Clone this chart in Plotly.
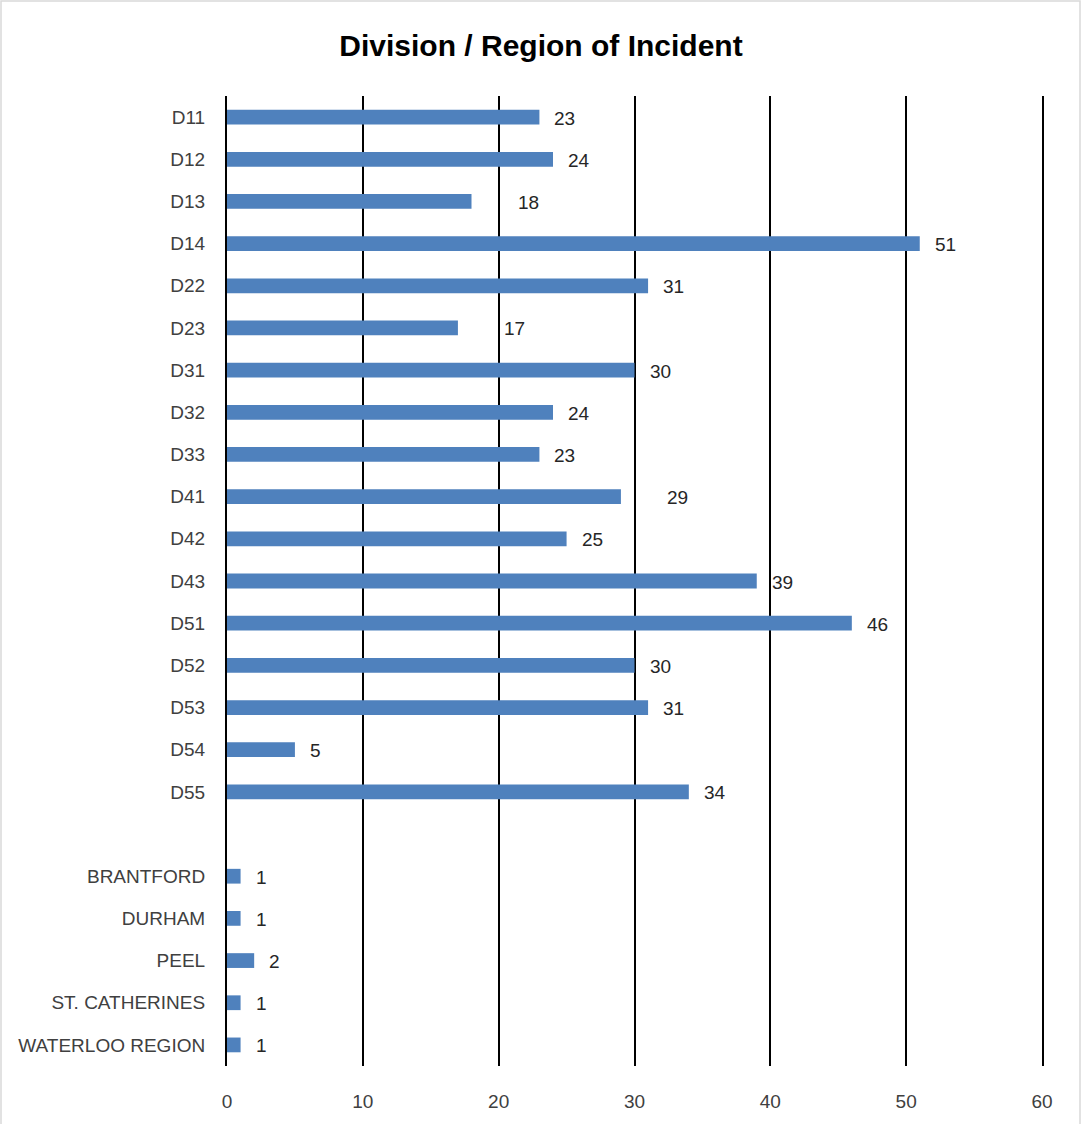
import plotly.graph_objects as go

# Incident counts by police division and outside region
categories = ["D11", "D12", "D13", "D14", "D22", "D23", "D31", "D32", "D33",
              "D41", "D42", "D43", "D51", "D52", "D53", "D54", "D55",
              " ",
              "BRANTFORD", "DURHAM", "PEEL", "ST. CATHERINES", "WATERLOO REGION"]
incidents = [23, 24, 18, 51, 31, 17, 30, 24, 23,
             29, 25, 39, 46, 30, 31, 5, 34,
             None,
             1, 1, 2, 1, 1]
x_ticks = [0, 10, 20, 30, 40, 50, 60]

# Horizontal pixel gap between a bar's end and its value label
label_gap = [13, 13, 44, 13, 13, 44, 13, 13, 13,
             44, 13, 13, 13, 13, 13, 13, 13,
             0,
             13, 13, 13, 13, 13]

FONT = "Liberation Sans, Arial, sans-serif"
W, H = 1082, 1124
ML, MR, MT, MB = 227, 40, 96, 58

fig = go.Figure()
fig.add_trace(go.Bar(
    y=categories, x=incidents, orientation="h",
    marker=dict(color="#4F81BD", line=dict(width=0)),
    width=0.35, hoverinfo="x+y",
))

for cat, val, gap in zip(categories, incidents, label_gap):
    if val is None:
        continue
    fig.add_annotation(x=val, y=cat, text=str(val), showarrow=False,
                       xanchor="left", xshift=gap, yshift=-1,
                       font=dict(family=FONT, size=19, color="#262626"))

# Light frame around the whole chart
pw = W - ML - MR
ph = H - MT - MB
fig.add_shape(type="rect", xref="paper", yref="paper",
              x0=(1 - ML) / pw, x1=(W - 2 - ML) / pw,
              y0=(MB - (H - 2)) / ph + 0, y1=(H - 1 - MB) / ph,
              line=dict(color="#D9D9D9", width=1.5), fillcolor="rgba(0,0,0,0)",
              layer="below")

fig.update_layout(
    width=W, height=H,
    margin=dict(l=ML, r=MR, t=MT, b=MB),
    paper_bgcolor="white", plot_bgcolor="white",
    showlegend=False,
    title=dict(text="<b>Division / Region of Incident</b>", x=0.5, xref="container",
               xanchor="center", y=1 - 45 / H, yref="container", yanchor="middle",
               font=dict(family=FONT, size=30, color="#000000")),
    xaxis=dict(range=[0, 60], tickvals=x_ticks, showgrid=True,
               gridcolor="#000000", gridwidth=2, zeroline=False,
               showline=False, ticks="", ticklabelstandoff=22,
               tickfont=dict(family=FONT, size=19, color="#404040"),
               fixedrange=True),
    yaxis=dict(type="category", categoryarray=categories,
               autorange="reversed", showgrid=False, zeroline=False,
               showline=True, mirror=True, linecolor="#000000", linewidth=2,
               ticks="", ticklabelstandoff=16,
               tickfont=dict(family=FONT, size=19, color="#404040"),
               fixedrange=True),
    bargap=0.65,
)

fig.write_html("out.html")
